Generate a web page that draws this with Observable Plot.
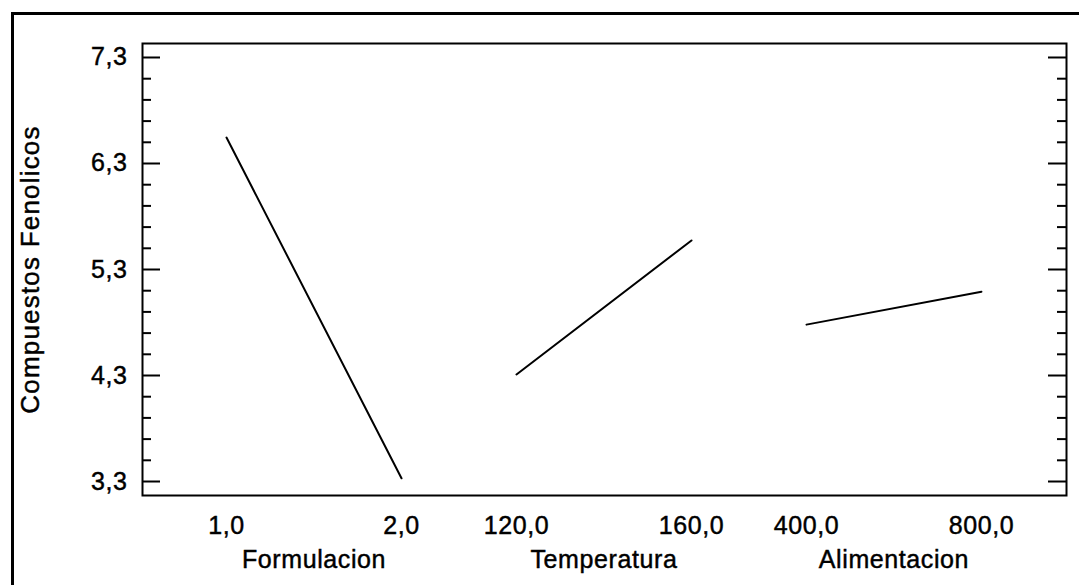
<!DOCTYPE html>
<html>
<head>
<meta charset="utf-8">
<script src="https://cdn.jsdelivr.net/npm/d3@7"></script>
<script src="https://cdn.jsdelivr.net/npm/@observablehq/plot@0.6"></script>
<style>
  html, body { margin: 0; padding: 0; background: #fff; overflow: hidden; }
  #wrap { position: relative; width: 1079px; height: 585px; }
  #border { position: absolute; left: 11px; top: 12px; width: 1100px; height: 600px;
            border-left: 3px solid #000; border-top: 3px solid #000; pointer-events: none; }
  #wrap svg text { letter-spacing: 0.6px; stroke: #000; stroke-width: 0.45px; }
  #wrap svg .ytitle text { letter-spacing: 1.2px; }
</style>
</head>
<body>
<div id="wrap"><div id="border"></div></div>
<script>
// ---- data ----
const factors = ["Formulacion", "Temperatura", "Alimentacion"];
const lowLevels = [1, 120, 400];
const highLevels = [2, 160, 800];
const lowLevelValues = [6.545, 4.31, 4.78];
const highLevelValues = [3.33, 5.574, 5.09];
const xTickLabels = ["1,0", "2,0", "120,0", "160,0", "400,0", "800,0"];
const yMajorTicks = [3.3, 4.3, 5.3, 6.3, 7.3];
const yMinorTicks = [3.5, 3.7, 3.9, 4.1, 4.5, 4.7, 4.9, 5.1, 5.5, 5.7, 5.9, 6.1, 6.5, 6.7, 6.9, 7.1];
const yTitle = "Compuestos Fenolicos";

// ---- layout: each factor occupies one unit on a shared x axis ----
const panelStep = 1.657;
const pos = (i, level) => i * panelStep + (level - lowLevels[i]) / (highLevels[i] - lowLevels[i]);

const lineData = factors.flatMap((f, i) => [
  {factor: f, x: pos(i, lowLevels[i]), y: lowLevelValues[i]},
  {factor: f, x: pos(i, highLevels[i]), y: highLevelValues[i]}
]);
const xTicks = factors.flatMap((f, i) => [
  {x: pos(i, lowLevels[i]), label: xTickLabels[2 * i]},
  {x: pos(i, highLevels[i]), label: xTickLabels[2 * i + 1]}
]);
const factorLabels = factors.map((f, i) => ({x: pos(i, (lowLevels[i] + highLevels[i]) / 2), label: f}));

const W = 1079, H = 585;
const mL = 142, mR = 13, mT = 43, mB = 90;
const plotW = W - mL - mR;
const font = "'Liberation Sans', Arial, sans-serif";

const chart = Plot.plot({
  width: W,
  height: H,
  marginLeft: mL,
  marginRight: mR,
  marginTop: mT,
  marginBottom: mB,
  style: {fontFamily: font, fontSize: "25px", background: "white", color: "black"},
  x: {type: "linear", domain: [-0.48, 4.8], axis: null},
  y: {type: "linear", domain: [3.168, 7.432], axis: null},
  marks: [
    // y tick marks, inward, both sides
    Plot.tickY(yMajorTicks, {y: d => d, insetRight: plotW - 18, stroke: "black", strokeWidth: 2}),
    Plot.tickY(yMinorTicks, {y: d => d, insetRight: plotW - 9, stroke: "black", strokeWidth: 2}),
    Plot.tickY(yMajorTicks, {y: d => d, insetLeft: plotW - 18, stroke: "black", strokeWidth: 2}),
    Plot.tickY(yMinorTicks, {y: d => d, insetLeft: plotW - 9, stroke: "black", strokeWidth: 2}),
    Plot.axisY({
      ticks: yMajorTicks,
      tickFormat: d => d.toFixed(1).replace(".", ","),
      tickSize: 0,
      tickPadding: 15,
      fontSize: 25,
      label: null
    }),
    Plot.text([yTitle], {
      text: d => d,
      frameAnchor: "left",
      textAnchor: "middle",
      rotate: -90,
      dx: -104,
      lineAnchor: "bottom",
      fontSize: 26,
      className: "ytitle"
    }),
    Plot.text(xTicks, {x: "x", text: "label", frameAnchor: "bottom", lineAnchor: "bottom", dy: 38, fontSize: 25}),
    Plot.text(factorLabels, {x: "x", text: "label", frameAnchor: "bottom", lineAnchor: "bottom", dy: 72, fontSize: 25}),
    Plot.line(lineData, {x: "x", y: "y", z: "factor", stroke: "black", strokeWidth: 2}),
    Plot.frame({stroke: "black", strokeWidth: 2})
  ]
});
document.getElementById("wrap").prepend(chart);
chart.style.position = "absolute";
chart.style.left = "0";
chart.style.top = "0";
</script>
</body>
</html>
